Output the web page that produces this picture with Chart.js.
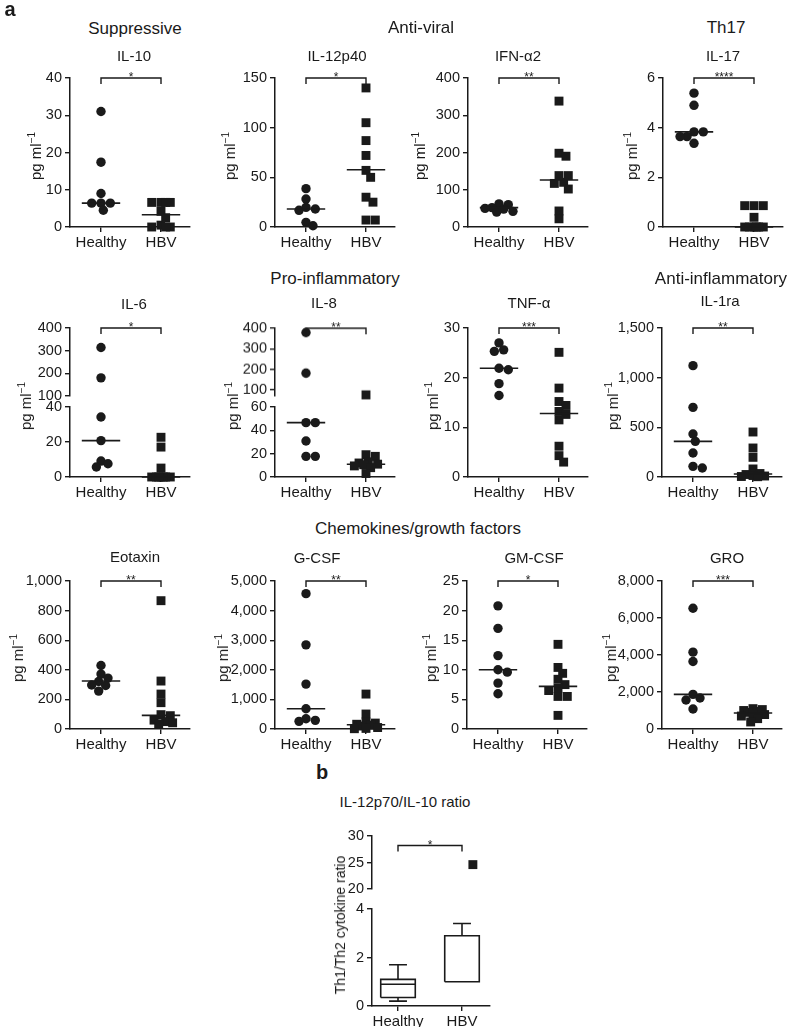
<!DOCTYPE html>
<html>
<head>
<meta charset="utf-8">
<script src="https://cdn.jsdelivr.net/npm/chart.js@4.4.1/dist/chart.umd.min.js"></script>
<style>
  body { margin: 0; background: #fff; }
  #fig { position: relative; width: 788px; height: 1027px; overflow: hidden;
         font-family: 'Liberation Sans', Arial, sans-serif; color: #1a1a1a; }
  .t { position: absolute; white-space: nowrap; transform: translate(-50%, -50%); line-height: 1; }
  .yl { position: absolute; white-space: nowrap; transform: translate(-50%, -50%) rotate(-90deg); line-height: 1; }
  .yl sup { font-size: 10px; }
  .box { position: absolute; }
  .bold { font-weight: bold; }
</style>
</head>
<body>
<div id="fig"></div>
<script>
const groups = ['Healthy', 'HBV'];

// values, pg/ml (medians as drawn)
const il10Healthy = [31.0, 17.4, 9.0, 6.4, 6.4, 6.4, 4.5];
const il10Hbv = [6.6, 6.6, 6.6, 6.6, 4.2, 2.5, 0.5, 0, 0, 0];
const il10Median = [6.4, 3.3];

const il12p40Healthy = [38.6, 28.2, 19.8, 18.1, 16.8, 4.7, 1.3];
const il12p40Hbv = [140, 105, 87, 72, 57, 50, 30, 25, 7, 7];
const il12p40Median = [18.1, 57.7];

const ifnHealthy = [62, 60, 52, 50, 48, 42, 40];
const ifnHbv = [338, 198, 190, 138, 138, 120, 117, 102, 43, 22];
const ifnMedian = [52, 126];

const il17Healthy = [5.39, 4.9, 3.83, 3.83, 3.64, 3.64, 3.37];
const il17Hbv = [0.86, 0.86, 0.86, 0.39, 0, 0, 0, 0, 0, 0];
const il17Median = [3.83, 0];

const il6Healthy = [314, 180, 34.3, 20.8, 9.1, 7.6, 5.7];
const il6Hbv = [22.7, 17.1, 5.1, 0, 0, 0, 0, 0, 0, 0];
const il6Median = [20.8, 0];

const il8Healthy = [379, 181, 46.6, 46.6, 30.9, 17.7, 17.7];
const il8Hbv = [75, 19.1, 17.7, 13, 12, 11, 10.5, 9.5, 8, 3];
const il8Median = [46.6, 10.9];

const tnfHealthy = [27.0, 25.6, 25.3, 21.9, 21.6, 18.8, 16.4];
const tnfHbv = [25.1, 17.9, 15.2, 14.4, 13.2, 12.6, 11.5, 6.2, 4.3, 3.0];
const tnfMedian = [21.9, 12.8];

const il1raHealthy = [1121, 701, 433, 359, 242, 107, 91];
const il1raHbv = [453, 292, 198, 81, 35, 25, 15, 10, 5, 3];
const il1raMedian = [359, 30];

const eotaxinHealthy = [429, 371, 344, 321, 297, 294, 256];
const eotaxinHbv = [867, 324, 236, 178, 97, 90, 60, 50, 42, 35];
const eotaxinMedian = [324, 92];

const gcsfHealthy = [4573, 2843, 1517, 685, 348, 292, 258];
const gcsfHbv = [1180, 506, 236, 200, 160, 130, 100, 50, 20, 10];
const gcsfMedian = [685, 146];

const gmcsfHealthy = [20.8, 17.0, 12.4, 10.0, 9.6, 7.75, 5.96];
const gmcsfHbv = [14.3, 10.4, 9.4, 8.4, 7.5, 6.9, 6.5, 5.5, 5.5, 2.3];
const gmcsfMedian = [10.0, 7.2];

const groHealthy = [6529, 4155, 3651, 1871, 1673, 1565, 1079];
const groHbv = [1100, 1050, 1000, 950, 900, 830, 780, 700, 560, 380];
const groMedian = [1871, 863];

// b: Th1/Th2 ratio box plot
const ratioMin = [0.2, 1.0];
const ratioQ1 = [0.35, 1.0];
const ratioMedian = [0.9, 1.0];
const ratioQ3 = [1.1, 2.9];
const ratioMax = [1.7, 3.4];
const ratioHbvOutliers = [24.6];

const INK = '#1a1a1a';
Chart.defaults.font.family = "'Liberation Sans', Arial, sans-serif";
Chart.defaults.color = INK;

const fig = document.getElementById('fig');
const Y_W = 60, X_H = 30;

function label(html, x, y, size, cls) {
  const d = document.createElement('div');
  d.className = cls || 't';
  d.style.left = x + 'px';
  d.style.top = y + 'px';
  d.style.fontSize = size + 'px';
  d.innerHTML = html;
  fig.appendChild(d);
}

// significance bracket drawn over the top of a panel
const bracketPlugin = {
  id: 'bracket',
  afterDatasetsDraw(chart, args, opts) {
    if (!opts.text) return;
    const { ctx, scales: { x, y } } = chart;
    const x0 = x.getPixelForValue(0), x1 = x.getPixelForValue(1);
    const yy = y.getPixelForValue(opts.level);
    ctx.save();
    ctx.strokeStyle = INK;
    ctx.lineWidth = 1.4;
    ctx.beginPath();
    ctx.moveTo(x0, yy + 6);
    ctx.lineTo(x0, yy);
    ctx.lineTo(x1, yy);
    ctx.lineTo(x1, yy + 6);
    ctx.stroke();
    ctx.fillStyle = INK;
    ctx.font = "12px 'Liberation Sans', Arial, sans-serif";
    ctx.textAlign = 'center';
    ctx.fillText(opts.text, (x0 + x1) / 2, yy + 3);
    ctx.restore();
  }
};

// simple beeswarm kept within +-maxHalf px, offsets in px
function swarm(values, toPx, diam, maxHalf) {
  const placed = [];
  const step = diam / 4;
  const limit = diam * 0.8;
  const n = Math.floor(maxHalf / step);
  return values.map(v => {
    const y = toPx(v);
    let best = 0, bestD = -1;
    for (let k = 0; k <= 2 * n; k++) {
      const dx = (k % 2 ? 1 : -1) * Math.ceil(k / 2) * step;
      let d = Infinity;
      placed.forEach(p => { d = Math.min(d, Math.hypot(p.x - dx, p.y - y)); });
      if (d >= limit) { best = dx; break; }
      if (d > bestD) { bestD = d; best = dx; }
    }
    placed.push({ x: best, y: y });
    return best;
  });
}

function ticksFrom(min, max, step) {
  const out = [];
  for (let v = Math.ceil(min / step) * step; v <= max + 1e-9; v += step) out.push(v);
  return out;
}

function dots(points, style) {
  return {
    data: points, pointStyle: style, pointRadius: style === 'rect' ? 6.3 : 4.7,
    pointBackgroundColor: INK, pointBorderWidth: 0, showLine: false, clip: false
  };
}

function lines(points) {
  return {
    data: points, showLine: true, borderColor: INK, borderWidth: 1.6,
    pointRadius: 0, spanGaps: false, clip: false
  };
}

function axisGrid() {
  return { display: true, drawOnChartArea: false, drawTicks: true, tickLength: 5, lineWidth: 1.4, color: INK };
}
function axisBorder() {
  return { display: true, color: INK, width: 1.5 };
}

function makeChart(p) {
  const w = Y_W + p.plotW + 14;
  const h = p.padTop + p.plotH + (p.xAxis ? X_H : p.padBottom);
  const box = document.createElement('div');
  box.className = 'box';
  box.style.left = (p.ax - Y_W) + 'px';
  box.style.top = (p.top - p.padTop) + 'px';
  const cv = document.createElement('canvas');
  cv.width = w; cv.height = h;
  cv.style.width = w + 'px'; cv.style.height = h + 'px';
  box.appendChild(cv);
  fig.appendChild(box);
  return new Chart(cv, {
    type: 'scatter',
    data: { datasets: p.datasets },
    options: {
      responsive: false, animation: false, events: [],
      layout: { autoPadding: false, padding: { top: p.padTop, bottom: p.xAxis ? 0 : p.padBottom, left: 0, right: 14 } },
      plugins: { legend: { display: false }, tooltip: { enabled: false }, bracket: p.bracket || {} },
      scales: {
        x: {
          type: 'linear', display: p.xAxis,
          min: -p.x0 / p.unit, max: (p.plotW - p.x0) / p.unit,
          afterFit: s => { if (p.xAxis) s.height = X_H; },
          afterBuildTicks: s => { s.ticks = groups.map((g, i) => ({ value: i })); },
          ticks: { callback: v => groups[v], font: { size: 15 }, padding: 2, maxRotation: 0, autoSkip: false },
          grid: axisGrid(), border: axisBorder()
        },
        y: {
          min: p.yMin, max: p.yMax,
          afterFit: s => { s.width = Y_W; },
          afterBuildTicks: s => { s.ticks = p.yTicks.map(v => ({ value: v })); },
          ticks: { callback: v => v.toLocaleString('en-US'), font: { size: 14.5 }, padding: 3, autoSkip: false },
          grid: axisGrid(), border: axisBorder()
        }
      }
    },
    plugins: [bracketPlugin]
  });
}

// panel layout
const UNIT = 60, X0 = 31, PLOT_W = 120;
const rows = [{ top: 78, bottom: 227 }, { top: 328, bottom: 477 }, { top: 581, bottom: 729 }];

const panels = [
  { healthy: il10Healthy, hbv: il10Hbv, med: il10Median, star: '*', yMax: 40, step: 10, ax: 70, row: 0, yt: 35 },
  { healthy: il12p40Healthy, hbv: il12p40Hbv, med: il12p40Median, star: '*', yMax: 150, step: 50, ax: 275, row: 0, yt: 229 },
  { healthy: ifnHealthy, hbv: ifnHbv, med: ifnMedian, star: '**', yMax: 400, step: 100, ax: 468, row: 0, yt: 419 },
  { healthy: il17Healthy, hbv: il17Hbv, med: il17Median, star: '****', yMax: 6, step: 2, ax: 663, row: 0, yt: 631 },
  { healthy: il6Healthy, hbv: il6Hbv, med: il6Median, star: '*', ax: 70, row: 1, yt: 25,
    lowMax: 40, lowStep: 20, upMin: 100, upMax: 400, upStep: 100, upBottom: 396, lowTop: 407 },
  { healthy: il8Healthy, hbv: il8Hbv, med: il8Median, star: '**', ax: 275, row: 1, yt: 232,
    lowMax: 60, lowStep: 20, upMin: 70, upMax: 400, upStep: 100, upBottom: 395.5, lowTop: 407 },
  { healthy: tnfHealthy, hbv: tnfHbv, med: tnfMedian, star: '***', yMax: 30, step: 10, ax: 468, row: 1, yt: 432 },
  { healthy: il1raHealthy, hbv: il1raHbv, med: il1raMedian, star: '**', yMax: 1500, step: 500, ax: 662, row: 1, yt: 612 },
  { healthy: eotaxinHealthy, hbv: eotaxinHbv, med: eotaxinMedian, star: '**', yMax: 1000, step: 200, ax: 70, row: 2, yt: 17 },
  { healthy: gcsfHealthy, hbv: gcsfHbv, med: gcsfMedian, star: '**', yMax: 5000, step: 1000, ax: 275, row: 2, yt: 222 },
  { healthy: gmcsfHealthy, hbv: gmcsfHbv, med: gmcsfMedian, star: '*', yMax: 25, step: 5, ax: 467, row: 2, yt: 430 },
  { healthy: groHealthy, hbv: groHbv, med: groMedian, star: '***', yMax: 8000, step: 2000, ax: 662, row: 2, yt: 610 }
];

function medianLine(gi, m) {
  return lines([{ x: gi - 0.32, y: m }, { x: gi + 0.32, y: m }]);
}

panels.forEach(p => {
  const r = rows[p.row];
  const broken = p.lowMax !== undefined;
  let toPx;
  if (broken) {
    const lowH = r.bottom - p.lowTop, gap = p.lowTop - p.upBottom, upH = p.upBottom - r.top;
    toPx = v => v >= p.upMin ? lowH + gap + (v - p.upMin) * upH / (p.upMax - p.upMin) : v * lowH / p.lowMax;
  } else {
    toPx = v => v * (r.bottom - r.top) / p.yMax;
  }
  const hx = swarm(p.healthy, toPx, 9.3, 15);
  const bx = swarm(p.hbv, toPx, 9.3, 13);
  const hPts = p.healthy.map((v, i) => ({ x: hx[i] / UNIT, y: v }));
  const bPts = p.hbv.map((v, i) => ({ x: 1 + bx[i] / UNIT, y: v }));
  const common = { plotW: PLOT_W, x0: X0, unit: UNIT, ax: p.ax };

  if (!broken) {
    makeChart(Object.assign({}, common, {
      top: r.top, plotH: r.bottom - r.top, padTop: 22, xAxis: true,
      yMin: 0, yMax: p.yMax, yTicks: ticksFrom(0, p.yMax, p.step),
      bracket: { text: p.star, level: p.yMax },
      datasets: [medianLine(0, p.med[0]), medianLine(1, p.med[1]), dots(hPts, 'circle'), dots(bPts, 'rect')]
    }));
  } else {
    const up = pt => pt.y >= p.upMin;
    makeChart(Object.assign({}, common, {
      top: r.top, plotH: p.upBottom - r.top, padTop: 22, padBottom: 12, xAxis: false,
      yMin: p.upMin, yMax: p.upMax, yTicks: ticksFrom(p.upMin, p.upMax, p.upStep),
      bracket: { text: p.star, level: p.upMax },
      datasets: [dots(hPts.filter(up), 'circle'), dots(bPts.filter(up), 'rect')]
    }));
    makeChart(Object.assign({}, common, {
      top: p.lowTop, plotH: r.bottom - p.lowTop, padTop: 12, xAxis: true,
      yMin: 0, yMax: p.lowMax, yTicks: ticksFrom(0, p.lowMax, p.lowStep),
      datasets: [
        medianLine(0, p.med[0]), medianLine(1, p.med[1]),
        dots(hPts.filter(pt => !up(pt)), 'circle'), dots(bPts.filter(pt => !up(pt)), 'rect')
      ]
    }));
  }
  label('pg ml<sup>\u22121</sup>', p.yt, (r.top + r.bottom) / 2 + 3, 15, 'yl');
});

// b: box plot with broken axis
const B = { ax: 372, plotW: 118, x0: 26, unit: 64 };
function boxPath(i) {
  const bw = 0.27, cw = 0.14, gap = { x: i, y: null };
  return [
    { x: i - cw, y: ratioMax[i] }, { x: i + cw, y: ratioMax[i] }, gap,
    { x: i, y: ratioMax[i] }, { x: i, y: ratioQ3[i] }, gap,
    { x: i - bw, y: ratioQ1[i] }, { x: i + bw, y: ratioQ1[i] }, { x: i + bw, y: ratioQ3[i] },
    { x: i - bw, y: ratioQ3[i] }, { x: i - bw, y: ratioQ1[i] }, gap,
    { x: i, y: ratioQ1[i] }, { x: i, y: ratioMin[i] }, gap,
    { x: i - cw, y: ratioMin[i] }, { x: i + cw, y: ratioMin[i] }, gap,
    { x: i - bw, y: ratioMedian[i] }, { x: i + bw, y: ratioMedian[i] }
  ];
}
// outlier sits a little right of the HBV box centre in the picture
const outlierShift = 0.17;
makeChart(Object.assign({}, B, {
  top: 836, plotH: 53, padTop: 22, padBottom: 12, xAxis: false,
  yMin: 20, yMax: 30, yTicks: ticksFrom(20, 30, 5),
  bracket: { text: '*', level: 28.2 },
  datasets: [dots(ratioHbvOutliers.map(v => ({ x: 1 + outlierShift, y: v })), 'rect')]
}));
makeChart(Object.assign({}, B, {
  top: 909, plotH: 97, padTop: 12, xAxis: true,
  yMin: 0, yMax: 4, yTicks: ticksFrom(0, 4, 2),
  datasets: [lines(boxPath(0)), lines(boxPath(1))]
}));

// headings
label('a', 10, 9, 20, 't bold');
label('Suppressive', 135, 28, 17);
label('Anti-viral', 421, 27, 17);
label('Th17', 726, 27, 17);
label('IL-10', 134, 55, 15);
label('IL-12p40', 337, 55, 15);
label('IFN-\u03b12', 518, 55, 15);
label('IL-17', 723, 55, 15);
label('Pro-inflammatory', 335, 278, 17);
label('Anti-inflammatory', 721, 278, 17);
label('IL-6', 134, 303, 15);
label('IL-8', 324, 302, 15);
label('TNF-\u03b1', 529, 302, 15);
label('IL-1ra', 720, 300, 15);
label('Chemokines/growth factors', 418, 528, 17);
label('Eotaxin', 135, 556, 15);
label('G-CSF', 317, 557, 15);
label('GM-CSF', 534, 557, 15);
label('GRO', 727, 557, 15);
label('b', 322, 772, 20, 't bold');
label('IL-12p70/IL-10 ratio', 405, 801, 15);
label('Th1/Th2 cytokine ratio', 340, 925, 14, 'yl');
</script>
</body>
</html>
